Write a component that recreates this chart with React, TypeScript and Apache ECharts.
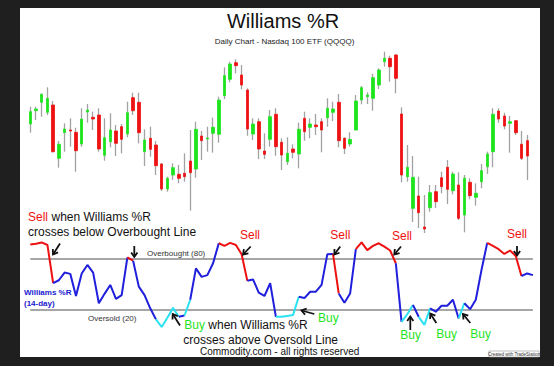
import React, { useEffect, useRef } from 'react';
import * as echarts from 'echarts';

// ---- data ----
const days = Array.from({ length: 89 }, (_, i) => `Day ${i + 1}`);

const openP = [
  176, 189.3, 197.7, 187.7, 195, 141.7, 167.3, 170, 167.7, 156,
  188, 182.7, 185, 144.7, 158.3, 169, 173.3, 166, 202.3, 197.7,
  148.3, 161.7, 155, 136, 111, 125, 125.7, 126.7, 139, 131,
  164, 161, 166.7, 165.7, 204.3, 220.7, 237.3, 225, 210, 166,
  178.3, 149, 160.7, 185.7, 157.7, 138.3, 151, 146, 181.7, 172.7,
  175, 178.3, 182.3, 187.7, 197.7, 161.7, 156, 170, 200, 203.3,
  201.7, 215, 238.3, 241.7, 245, 186, 123.3, 91.7, 104, 73,
  92.3, 108.3, 122.3, 132.7, 109.3, 115, 85, 117.7, 102.7, 118.3,
  133.3, 148.3, 189, 184, 176.7, 179.3, 155.7, 159.3,
];
const closeP = [
  188.3, 191, 205.7, 201.7, 148.3, 155.7, 171, 169, 149.3, 181,
  190, 181, 151, 162.3, 170, 156.7, 160.7, 187.3, 189.3, 167.3,
  160, 150.7, 134.3, 111, 121.7, 132.3, 121.7, 123.3, 127.3, 170.7,
  159.3, 162, 172.7, 200, 224.3, 236, 234.3, 215, 171, 176,
  151, 145.7, 183.3, 153.3, 145, 146.7, 147.7, 170.7, 168.3, 176,
  173.3, 170, 191.7, 191, 159.3, 151.7, 160.7, 199, 212.3, 205,
  222.3, 230, 241.7, 233.3, 221.7, 125, 132.7, 122.7, 87.3, 71,
  107.3, 98.3, 113.3, 110.7, 126, 81.7, 121.7, 104.3, 106.7, 129.3,
  146, 185.7, 181, 174, 178.3, 167.3, 141.7, 144,
];
const lowP = [
  167.3, 180, 183.3, 185, 147.5, 132.3, 148.3, 153.3, 128.3, 153.3,
  177.3, 170, 148.3, 139.3, 152.7, 144, 146.7, 162.7, 185, 156.7,
  134, 143.3, 125, 109, 108.3, 120, 116.7, 118.3, 89.3, 122.3,
  140, 148.3, 147.3, 157.3, 201, 217.7, 226.7, 210.7, 164.3, 160,
  141, 141, 153.3, 144.3, 130, 135, 141.7, 131.7, 159.3, 161.7,
  165, 147.7, 173.3, 179, 152.7, 146, 153.3, 169.5, 195.7, 196,
  189.3, 211, 233.3, 218.3, 206.7, 117.7, 118.3, 78, 72, 67,
  88.3, 92, 106.7, 96, 105.7, 80, 67.7, 100.7, 94.3, 111.7,
  126, 132.7, 177.3, 170.7, 147.3, 165, 140, 120,
];
const highP = [
  193.3, 193.3, 206.7, 212.7, 199, 159, 176.7, 181.7, 172.3, 191.7,
  196, 188.3, 191.7, 181.7, 186.7, 175, 176, 198.3, 207.3, 207.3,
  170.7, 173.3, 159, 137, 123.3, 136.7, 135, 146.7, 170, 178.3,
  169, 173.3, 182.3, 203.3, 232.7, 238.3, 240.7, 235, 211.7, 181.7,
  181.7, 166.7, 190, 191.7, 161.7, 162.7, 155.7, 177.3, 188.3, 181.7,
  186, 181.7, 201.7, 198.3, 206, 162.7, 167.7, 205, 214, 207.7,
  226, 231.7, 248.3, 244.3, 246, 192.7, 155, 144, 123.3, 105,
  115, 115, 128.3, 140, 128.3, 127.7, 125, 121.7, 116.7, 136,
  148.3, 191.7, 191.7, 187.3, 184, 180, 169, 165,
];

const williamsR = [
  97, 98, 99.5, 96.5, 51.5, 55, 64, 62.5, 36.5, 63,
  73, 64, 28, 39, 49.5, 33, 37.5, 82, 78, 47.5,
  37.5, 22, 9, 0, 11, 22.5, 12, 13.5, 32, 69,
  59, 61, 75, 98.5, 95.5, 99, 96.5, 85.5, 54.5, 56,
  40.5, 36.5, 51.5, 12, 12, 13, 14, 35.5, 34, 41.5,
  41.5, 49.5, 85.5, 86, 39.5, 28.5, 39.5, 91.5, 99.5, 90.5,
  95.5, 98.5, 94.5, 90, 75, 6, 15, 26, 12, 2.5,
  22, 18, 25, 25, 32, 10, 28, 21, 32, 67,
  99, 95.5, 91.5, 86, 90, 83.5, 60, 63, 61,
];

// colour sections of the %R line (1-based start day; each runs to the next start)
const segStart = [1, 5, 18, 19, 23, 27, 28, 29, 34, 39, 44, 48, 54, 55, 58, 65, 66, 68, 69, 71, 76, 77, 81, 87];
const segKind = ['sell', 'base', 'sell', 'base', 'buy', 'base', 'buy', 'base', 'sell', 'base', 'buy', 'base', 'sell', 'base', 'sell', 'base', 'buy', 'base', 'buy', 'base', 'buy', 'base', 'sell', 'base'];

const levels = [80, 20];

const FONT = '"Liberation Sans", Arial, Helvetica, sans-serif';
const LINE_COLORS: Record<string, string> = { sell: '#ee1111', base: '#1f1fdc', buy: '#2be2f2' };
const RED = '#ee1111';
const GREEN = '#1ee41e';

function txt(x: number, y: number, text: string, size: number, color: string, opts: any = {}) {
  const align = opts.align || 'left';
  return {
    type: 'text',
    x,
    y,
    silent: true,
    z: 10,
    style: {
      text,
      fill: color,
      font: `${opts.bold ? 'bold ' : ''}${size}px ${FONT}`,
      textAlign: align,
      align,
      textVerticalAlign: 'middle',
      verticalAlign: 'middle',
    },
  };
}

function arrow(x1: number, y1: number, x2: number, y2: number) {
  const ang = Math.atan2(y2 - y1, x2 - x1);
  const L = 5.5;
  const a = 0.6;
  const p1 = [x2 - L * Math.cos(ang - a), y2 - L * Math.sin(ang - a)];
  const p2 = [x2 - L * Math.cos(ang + a), y2 - L * Math.sin(ang + a)];
  return [
    { type: 'line', silent: true, z: 10, shape: { x1, y1, x2, y2 }, style: { stroke: '#111', lineWidth: 1.8 } },
    { type: 'polyline', silent: true, z: 10, shape: { points: [p1, [x2, y2], p2] }, style: { stroke: '#111', fill: 'none', lineWidth: 1.8 } },
  ];
}

export default function App() {
  const ref = useRef<HTMLDivElement>(null);

  useEffect(() => {
    if (!ref.current) return;
    const chart = echarts.init(ref.current, null, { renderer: 'svg' });

    const wickData = days.map((_, i) =>
      i < openP.length ? [openP[i], closeP[i], lowP[i], highP[i]] : '-'
    );
    const bodyData = days.map((_, i) =>
      i < openP.length
        ? [openP[i], closeP[i], Math.min(openP[i], closeP[i]), Math.max(openP[i], closeP[i])]
        : '-'
    );

    const segSeries = segStart.map((s, k) => {
      const e = k + 1 < segStart.length ? segStart[k + 1] : williamsR.length;
      return {
        type: 'line',
        xAxisIndex: 1,
        yAxisIndex: 1,
        silent: true,
        symbol: 'none',
        z: 5,
        lineStyle: { color: LINE_COLORS[segKind[k]], width: 2 },
        data: williamsR.map((v, i) => (i + 1 >= s && i + 1 <= e ? v : '-')),
      };
    });

    const arrows = [
      [60, 243.5, 53, 254.5],
      [134.3, 246, 134.3, 257],
      [250.7, 246.5, 243, 254.5],
      [180, 325.5, 172.7, 314],
      [340.3, 246.5, 334.3, 254.5],
      [401, 246.5, 394.3, 254.5],
      [517, 246, 517, 255.5],
      [314.3, 314, 301.5, 310.5],
      [410.3, 330, 410.3, 316.5],
      [436.3, 323, 430.3, 313.5],
      [470.3, 323, 463, 314],
    ].flatMap((a) => arrow(a[0], a[1], a[2], a[3]));

    const option: any = {
      animation: false,
      backgroundColor: '#1f1f1f',
      grid: [
        { left: 27.45, width: 508.4, top: 50, height: 190 },
        { left: 30.3, width: 502.6, top: 242, height: 85 },
      ],
      xAxis: [
        { type: 'category', gridIndex: 0, data: days, boundaryGap: true, show: false },
        { type: 'category', gridIndex: 1, data: days, boundaryGap: false, show: false },
      ],
      yAxis: [
        { type: 'value', gridIndex: 0, min: 60, max: 250, show: false },
        { type: 'value', gridIndex: 1, min: 0, max: 100, show: false },
      ],
      series: [
        {
          name: 'wicks',
          type: 'candlestick',
          xAxisIndex: 0,
          yAxisIndex: 0,
          silent: true,
          barWidth: 1,
          z: 2,
          itemStyle: {
            color: '#a2a2a2',
            color0: '#a2a2a2',
            borderColor: '#a2a2a2',
            borderColor0: '#a2a2a2',
            borderWidth: 1.3,
          },
          data: wickData,
        },
        {
          name: 'QQQQ',
          type: 'candlestick',
          xAxisIndex: 0,
          yAxisIndex: 0,
          silent: true,
          barWidth: 3,
          z: 3,
          itemStyle: {
            color: GREEN,
            color0: RED,
            borderColor: GREEN,
            borderColor0: RED,
            borderWidth: 0.8,
          },
          data: bodyData,
        },
        {
          name: 'levels',
          type: 'line',
          xAxisIndex: 1,
          yAxisIndex: 1,
          silent: true,
          symbol: 'none',
          z: 1,
          lineStyle: { opacity: 0, width: 0 },
          data: williamsR,
          markLine: {
            silent: true,
            symbol: 'none',
            label: { show: false },
            lineStyle: { color: '#a6a6a6', width: 2, type: 'solid' },
            data: levels.map((v) => ({ yAxis: v })),
          },
        },
        ...segSeries,
      ],
      graphic: [
        { type: 'rect', silent: true, z: -10, shape: { x: 20, y: 8, width: 520, height: 349 }, style: { fill: '#ffffff' } },
        txt(283, 21, 'Williams %R', 20, '#111'),
        txt(284.5, 41, 'Daily Chart - Nasdaq 100 ETF (QQQQ)', 8, '#222'),
        txt(28, 216.5, 'Sell', 12, RED),
        txt(51.5, 216.5, 'when Williams %R', 12, '#111'),
        txt(28, 232, 'crosses below Overbought Line', 12, '#111'),
        txt(240, 235, 'Sell', 12, RED),
        txt(330.3, 235, 'Sell', 12, RED),
        txt(392, 235.5, 'Sell', 12, RED),
        txt(507, 234, 'Sell', 12, RED),
        txt(184.3, 325, 'Buy', 12, GREEN),
        txt(208.3, 325, 'when Williams %R', 12, '#111'),
        txt(183.3, 340, 'crosses above Oversold Line', 12, '#111'),
        txt(318, 318, 'Buy', 12, GREEN),
        txt(400.3, 335, 'Buy', 12, GREEN),
        txt(436.3, 334, 'Buy', 12, GREEN),
        txt(470.3, 334, 'Buy', 12, GREEN),
        txt(200, 351, 'Commodity.com - all rights reserved', 10, '#111'),
        txt(147, 253, 'Overbought (80)', 8, '#333'),
        txt(88, 318, 'Oversold (20)', 8, '#333'),
        txt(24, 292, 'Williams %R', 8, '#2020d0', { bold: true }),
        txt(24, 303, '(14-day)', 8, '#2020d0', { bold: true }),
        { type: 'rect', silent: true, z: 10, shape: { x: 489, y: 351, width: 50, height: 6 }, style: { fill: '#fff', stroke: '#999', lineWidth: 0.6 } },
        txt(514, 354, 'Created with TradeStation', 4.5, '#333', { align: 'center' }),
        ...arrows,
      ],
    };
    // centre-aligned title texts
    option.graphic[1].style.textAlign = 'center';
    option.graphic[1].style.align = 'center';
    option.graphic[2].style.textAlign = 'center';
    option.graphic[2].style.align = 'center';

    chart.setOption(option);
    return () => chart.dispose();
  }, []);

  return (
    <div
      ref={ref}
      style={{ position: 'fixed', left: 0, top: 0, width: 554, height: 366 }}
    />
  );
}
